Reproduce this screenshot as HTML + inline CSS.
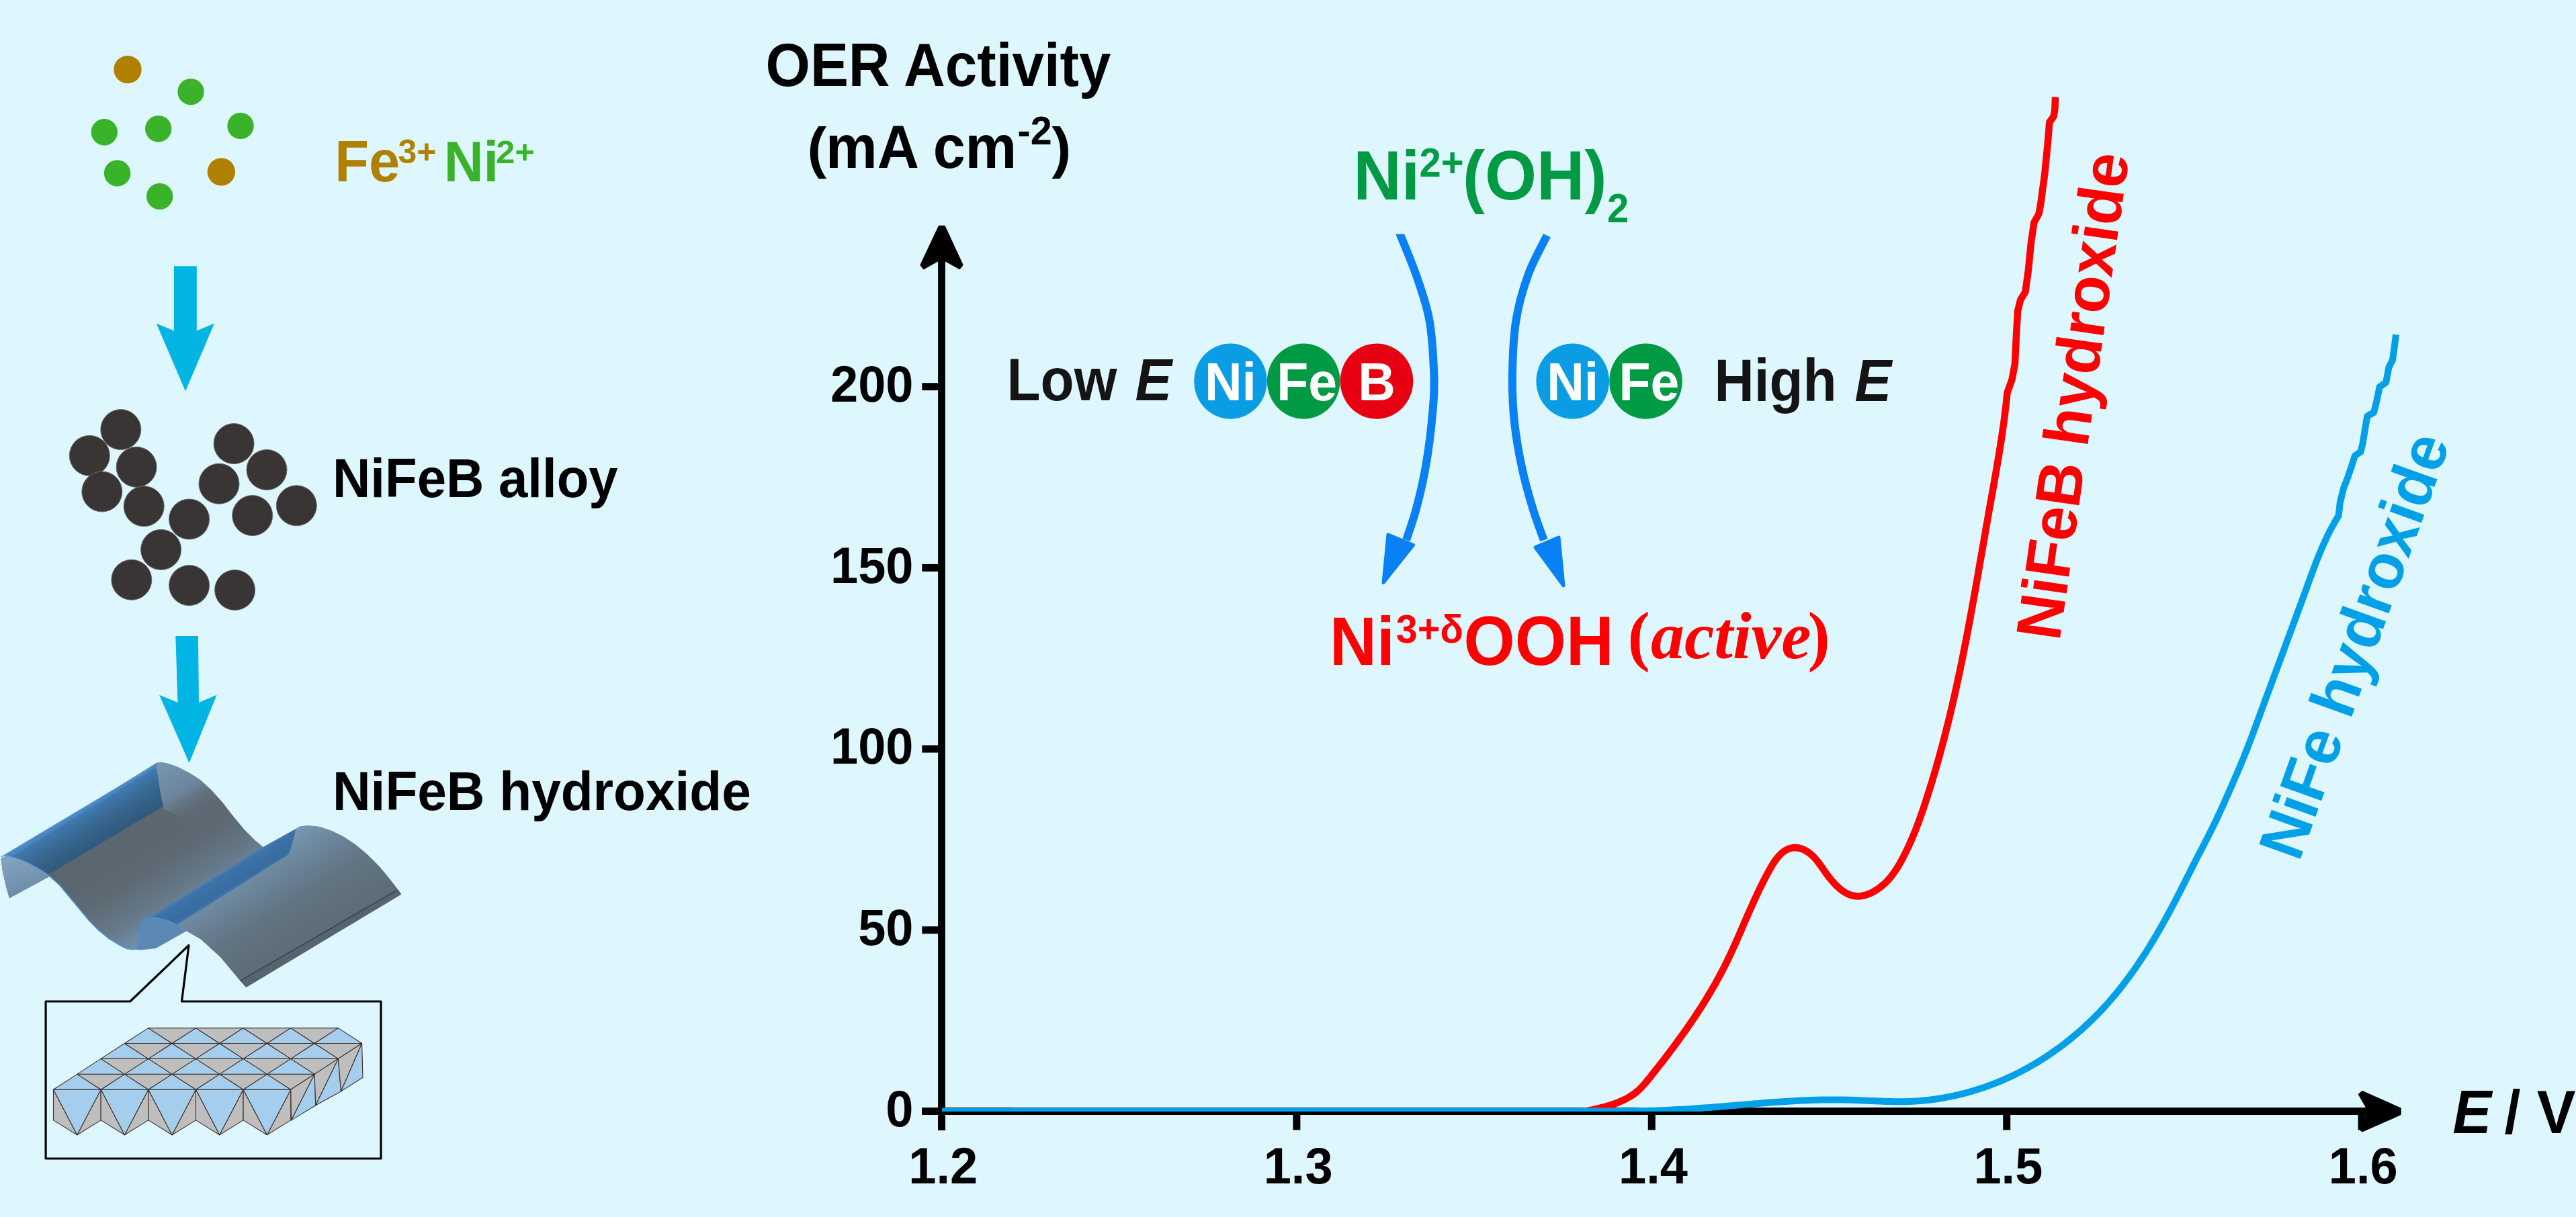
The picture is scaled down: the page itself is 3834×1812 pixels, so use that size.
<!DOCTYPE html><html><head><meta charset="utf-8"><style>html,body{margin:0;padding:0;background:#DEF7FF;overflow:hidden}svg{display:block}</style></head><body><svg width="3834" height="1812" viewBox="0 0 3834 1812"><rect width="100%" height="100%" fill="#DEF7FF"/><circle cx="190.0" cy="103.5" r="20.7" fill="#B08000"/>
<circle cx="329.4" cy="255.9" r="20.7" fill="#B08000"/>
<circle cx="284.0" cy="136.6" r="19.7" fill="#3AB22A"/>
<circle cx="155.3" cy="196.7" r="19.7" fill="#3AB22A"/>
<circle cx="235.7" cy="191.8" r="19.7" fill="#3AB22A"/>
<circle cx="358.0" cy="187.4" r="19.7" fill="#3AB22A"/>
<circle cx="174.6" cy="257.9" r="19.7" fill="#3AB22A"/>
<circle cx="237.7" cy="292.4" r="19.7" fill="#3AB22A"/>
<text x="0" y="0" transform="translate(498.2,269.6) scale(1,1.045)" font-family="&quot;Liberation Sans&quot;, sans-serif" font-weight="bold" font-style="normal" font-size="83.1" fill="#B08000" text-anchor="start" >Fe</text>
<text x="0" y="0" transform="translate(592.4,242.6) scale(1,1.000)" font-family="&quot;Liberation Sans&quot;, sans-serif" font-weight="bold" font-style="normal" font-size="50.0" fill="#B08000" text-anchor="start" >3+</text>
<text x="0" y="0" transform="translate(660.7,269.6) scale(1,1.035)" font-family="&quot;Liberation Sans&quot;, sans-serif" font-weight="bold" font-style="normal" font-size="81.6" fill="#3AB22A" text-anchor="start" >Ni</text>
<text x="0" y="0" transform="translate(738.2,242.8) scale(1,0.960)" font-family="&quot;Liberation Sans&quot;, sans-serif" font-weight="bold" font-style="normal" font-size="50.5" fill="#3AB22A" text-anchor="start" >2+</text>
<path d="M258.9,396.3 L292.8,396.3 L292.8,492.4 L319.0,481.6 L276.0,582.4 L232.7,481.6 L258.9,492.4 Z" fill="#00B4E4"/>
<path d="M261.3,947 L294.9,947 L296,1046 L322.5,1034.8 L281.6,1136 L237.2,1034.8 L264.5,1046 Z" fill="#00B4E4"/>
<circle cx="133.3" cy="678.4" r="30" fill="#383534" stroke="#6b6a6a" stroke-width="1"/>
<circle cx="179.8" cy="639.6" r="30" fill="#383534" stroke="#6b6a6a" stroke-width="1"/>
<circle cx="151.8" cy="732.0" r="30" fill="#383534" stroke="#6b6a6a" stroke-width="1"/>
<circle cx="203.1" cy="695.4" r="30" fill="#383534" stroke="#6b6a6a" stroke-width="1"/>
<circle cx="214.2" cy="753.8" r="30" fill="#383534" stroke="#6b6a6a" stroke-width="1"/>
<circle cx="348.1" cy="660.6" r="30" fill="#383534" stroke="#6b6a6a" stroke-width="1"/>
<circle cx="397.0" cy="699.5" r="30" fill="#383534" stroke="#6b6a6a" stroke-width="1"/>
<circle cx="326.0" cy="720.3" r="30" fill="#383534" stroke="#6b6a6a" stroke-width="1"/>
<circle cx="441.3" cy="752.8" r="30" fill="#383534" stroke="#6b6a6a" stroke-width="1"/>
<circle cx="375.7" cy="767.6" r="30" fill="#383534" stroke="#6b6a6a" stroke-width="1"/>
<circle cx="281.6" cy="773.0" r="30" fill="#383534" stroke="#6b6a6a" stroke-width="1"/>
<circle cx="239.6" cy="818.4" r="30" fill="#383534" stroke="#6b6a6a" stroke-width="1"/>
<circle cx="195.8" cy="863.3" r="30" fill="#383534" stroke="#6b6a6a" stroke-width="1"/>
<circle cx="281.6" cy="871.6" r="30" fill="#383534" stroke="#6b6a6a" stroke-width="1"/>
<circle cx="349.6" cy="878.5" r="30" fill="#383534" stroke="#6b6a6a" stroke-width="1"/>
<text x="0" y="0" transform="translate(495.0,740.0) scale(1,1.040)" font-family="&quot;Liberation Sans&quot;, sans-serif" font-weight="bold" font-style="normal" font-size="78.0" fill="#000" text-anchor="start" >NiFeB alloy</text>
<text x="0" y="0" transform="translate(495.0,1205.5) scale(1,1.040)" font-family="&quot;Liberation Sans&quot;, sans-serif" font-weight="bold" font-style="normal" font-size="78.4" fill="#000" text-anchor="start" >NiFeB hydroxide</text>
<defs><linearGradient id="gG1" gradientUnits="userSpaceOnUse" x1="35.8" y1="1309.0" x2="128.4" y2="1458.8"><stop offset="0.000" stop-color="#5a656d" stop-opacity="1"/><stop offset="0.500" stop-color="#5d6a73" stop-opacity="1"/><stop offset="0.780" stop-color="#667a8b" stop-opacity="1"/><stop offset="1.000" stop-color="#7392ad" stop-opacity="1"/></linearGradient><linearGradient id="gB1" gradientUnits="userSpaceOnUse" x1="14.8" y1="1275.0" x2="43.2" y2="1321.0"><stop offset="0.000" stop-color="#4a88c3" stop-opacity="1"/><stop offset="0.050" stop-color="#4079ae" stop-opacity="1"/><stop offset="0.500" stop-color="#37668f" stop-opacity="1"/><stop offset="1.000" stop-color="#30597c" stop-opacity="1"/></linearGradient><linearGradient id="gCap" gradientUnits="userSpaceOnUse" x1="12.2" y1="1270.7" x2="67.4" y2="1360.1"><stop offset="0.000" stop-color="#7a99b3" stop-opacity="1"/><stop offset="0.550" stop-color="#6d889f" stop-opacity="0.9"/><stop offset="1.000" stop-color="#5d6a73" stop-opacity="0"/></linearGradient><linearGradient id="gR2" gradientUnits="userSpaceOnUse" x1="111.6" y1="1431.6" x2="202.1" y2="1578.0"><stop offset="0.000" stop-color="#7a99b4" stop-opacity="1"/><stop offset="0.250" stop-color="#6c879d" stop-opacity="1"/><stop offset="0.550" stop-color="#627482" stop-opacity="1"/><stop offset="1.000" stop-color="#5c6a74" stop-opacity="1"/></linearGradient><linearGradient id="gB2" gradientUnits="userSpaceOnUse" x1="111.6" y1="1431.6" x2="129.5" y2="1460.5"><stop offset="0.000" stop-color="#4c86c0" stop-opacity="1"/><stop offset="0.200" stop-color="#3b72a9" stop-opacity="1"/><stop offset="0.800" stop-color="#356a9f" stop-opacity="1"/><stop offset="1.000" stop-color="#3f78b0" stop-opacity="1"/></linearGradient><linearGradient id="gLC" x1="0" y1="0" x2="0.3" y2="1"><stop offset="0" stop-color="#86a6c2"/><stop offset="1" stop-color="#6a8aa8"/></linearGradient></defs>
<path d="M1.5,1279.6 L232.1,1136.6 L238.7,1134.8 L248.6,1136.4 L265.0,1142.2 L281.4,1150.4 L297.9,1161.1 L314.3,1175.9 L330.7,1193.9 L347.1,1215.3 L363.6,1235.0 L380.0,1251.4 L389.9,1259.6 L392.0,1261.5 L440.4,1233.9 L446.3,1230.4 L458.1,1228.9 L475.9,1230.9 L493.6,1236.9 L511.4,1245.7 L529.1,1257.6 L546.9,1272.4 L564.6,1290.1 L579.4,1307.9 L594.2,1327.1 L597.2,1331.5 L366.4,1470.0 L357.5,1460.2 L327.9,1424.7 L298.3,1398.1 L277.6,1386.3 L265.8,1378.9 L251.5,1371.3 L233.7,1366.9 L221.9,1366.1 L214.5,1368.3 L210.0,1375.7 L207.1,1397.9 L204.1,1409.8 L199.7,1413.5 L189.3,1412.7 L177.5,1406.8 L162.7,1397.9 L148.0,1386.1 L133.1,1371.3 L118.3,1353.6 L103.6,1335.8 L88.8,1318.0 L74.0,1304.7 L14.0,1337.3 L9.0,1320.0 L4.0,1298.0 Z" fill="url(#gG1)" />
<path d="M232.3,1138.4 L238.7,1134.8 L248.6,1136.4 L265.0,1142.2 L281.4,1150.4 L297.9,1161.1 L314.3,1175.9 L330.7,1193.9 L347.1,1215.3 L363.6,1235.0 L380.0,1251.4 L300.0,1230.0 L243.0,1205.0 L242.7,1200.5 L238.1,1177.5 L234.6,1154.5 Z" fill="url(#gCap)" />
<path d="M1.5,1279.6 L10.4,1273.7 L14.8,1275.1 L29.6,1279.6 L44.4,1286.2 L59.2,1294.4 L74.0,1304.7 L14.0,1337.3 L9.0,1320.0 L4.0,1298.0 Z" fill="url(#gLC)" />
<path d="M2.0,1276.0 L232.3,1138.4 L234.6,1154.5 L238.1,1177.5 L242.7,1200.5 L74.0,1301.0 L59.2,1294.4 L44.4,1286.2 L29.6,1279.6 L14.8,1275.1 L6.0,1274.0 Z" fill="url(#gB1)" />
<path d="M262.8,1377.4 L430.0,1272.0 L440.4,1233.9 L446.3,1230.4 L458.1,1228.9 L475.9,1230.9 L493.6,1236.9 L511.4,1245.7 L529.1,1257.6 L546.9,1272.4 L564.6,1290.1 L579.4,1307.9 L594.2,1327.1 L597.2,1331.5 L366.4,1470.0 L357.5,1460.2 L327.9,1424.7 L298.3,1398.1 L277.6,1386.3 Z" fill="url(#gR2)" />
<path d="M221.4,1366.0 L390.0,1262.0 L440.4,1233.9 L436.0,1252.0 L430.0,1272.0 L262.8,1377.4 L251.5,1371.3 L233.7,1366.9 Z" fill="url(#gB2)" opacity="0.95"/>
<path d="M199.7,1413.5 L204.1,1409.8 L207.1,1397.9 L210.0,1375.7 L214.5,1368.3 L221.9,1366.1 L233.7,1366.9 L251.5,1371.3 L265.8,1378.9 L277.6,1386.3 L232.0,1412.0 L210.0,1414.5 Z" fill="#5c88b6" />
<path d="M74,1304.7 L88.8,1318 L103.6,1335.8 L118.3,1353.6 L133.1,1371.3 L148,1386.1 L162.7,1397.9 L177.5,1406.8 L189.3,1412.7 L199.7,1413.5 L204.1,1409.8 L207.1,1397.9 L210,1375.7 L214.5,1368.3 L221.9,1366.1 L233.7,1366.9 L251.5,1371.3 L265.8,1378.9" fill="none" stroke="#4d8fd2" stroke-width="1.6" stroke-linejoin="round"/>
<path d="M1.5,1279.6 L10.4,1273.7 L14.8,1275.1 L29.6,1279.6 L44.4,1286.2 L59.2,1294.4 L74,1304.7" fill="none" stroke="#5a97d6" stroke-width="1.4"/>
<path d="M2,1276 L232.3,1138.4" fill="none" stroke="#5795d4" stroke-width="1.6"/>
<path d="M357.5,1460.2 L591,1324.5 L597.2,1331.5 L366.4,1470 Z" fill="#56646e"/>
<path d="M357.5,1460.2 L590,1326" stroke="#2f3c46" stroke-width="1.3" fill="none"/>
<path d="M193.7,1491 L68.1,1491 L68.1,1725 L567,1725 L567,1491 L270.5,1491 L281,1407.5 Z" fill="none" stroke="#000" stroke-width="3.2" stroke-linejoin="round"/>
<path d="M79.5,1622.3 L79.5,1667.9 L114.8,1689.8 Z" fill="#BEBEBE" stroke="#3b2d2d" stroke-width="1.1" stroke-linejoin="round"/>
<path d="M150.2,1622.3 L150.2,1667.9 L114.8,1689.8 Z" fill="#BEBEBE" stroke="#3b2d2d" stroke-width="1.1" stroke-linejoin="round"/>
<path d="M79.5,1622.3 L150.2,1622.3 L114.8,1689.8 Z" fill="#A5CEEC" stroke="#3b2d2d" stroke-width="1.1" stroke-linejoin="round"/>
<path d="M150.2,1622.3 L150.2,1667.9 L185.5,1689.8 Z" fill="#BEBEBE" stroke="#3b2d2d" stroke-width="1.1" stroke-linejoin="round"/>
<path d="M220.8,1622.3 L220.8,1667.9 L185.5,1689.8 Z" fill="#BEBEBE" stroke="#3b2d2d" stroke-width="1.1" stroke-linejoin="round"/>
<path d="M150.2,1622.3 L220.8,1622.3 L185.5,1689.8 Z" fill="#A5CEEC" stroke="#3b2d2d" stroke-width="1.1" stroke-linejoin="round"/>
<path d="M220.8,1622.3 L220.8,1667.9 L256.1,1689.8 Z" fill="#BEBEBE" stroke="#3b2d2d" stroke-width="1.1" stroke-linejoin="round"/>
<path d="M291.5,1622.3 L291.5,1667.9 L256.1,1689.8 Z" fill="#BEBEBE" stroke="#3b2d2d" stroke-width="1.1" stroke-linejoin="round"/>
<path d="M220.8,1622.3 L291.5,1622.3 L256.1,1689.8 Z" fill="#A5CEEC" stroke="#3b2d2d" stroke-width="1.1" stroke-linejoin="round"/>
<path d="M291.5,1622.3 L291.5,1667.9 L326.8,1689.8 Z" fill="#BEBEBE" stroke="#3b2d2d" stroke-width="1.1" stroke-linejoin="round"/>
<path d="M362.1,1622.3 L362.1,1667.9 L326.8,1689.8 Z" fill="#BEBEBE" stroke="#3b2d2d" stroke-width="1.1" stroke-linejoin="round"/>
<path d="M291.5,1622.3 L362.1,1622.3 L326.8,1689.8 Z" fill="#A5CEEC" stroke="#3b2d2d" stroke-width="1.1" stroke-linejoin="round"/>
<path d="M362.1,1622.3 L362.1,1667.9 L397.4,1689.8 Z" fill="#BEBEBE" stroke="#3b2d2d" stroke-width="1.1" stroke-linejoin="round"/>
<path d="M432.8,1622.3 L432.8,1667.9 L397.4,1689.8 Z" fill="#BEBEBE" stroke="#3b2d2d" stroke-width="1.1" stroke-linejoin="round"/>
<path d="M362.1,1622.3 L432.8,1622.3 L397.4,1689.8 Z" fill="#A5CEEC" stroke="#3b2d2d" stroke-width="1.1" stroke-linejoin="round"/>
<path d="M79.5,1622.3 L150.2,1622.3 L114.8,1599.4 Z" fill="#A5CEEC" stroke="#3b2d2d" stroke-width="1.1" stroke-linejoin="round"/>
<path d="M150.2,1622.3 L220.8,1622.3 L185.4,1599.4 Z" fill="#A5CEEC" stroke="#3b2d2d" stroke-width="1.1" stroke-linejoin="round"/>
<path d="M220.8,1622.3 L291.5,1622.3 L256.1,1599.4 Z" fill="#A5CEEC" stroke="#3b2d2d" stroke-width="1.1" stroke-linejoin="round"/>
<path d="M291.5,1622.3 L362.1,1622.3 L326.8,1599.4 Z" fill="#A5CEEC" stroke="#3b2d2d" stroke-width="1.1" stroke-linejoin="round"/>
<path d="M362.1,1622.3 L432.8,1622.3 L397.4,1599.4 Z" fill="#A5CEEC" stroke="#3b2d2d" stroke-width="1.1" stroke-linejoin="round"/>
<path d="M114.8,1599.4 L185.4,1599.4 L150.2,1622.3 Z" fill="#BEBEBE" stroke="#3b2d2d" stroke-width="1.1" stroke-linejoin="round"/>
<path d="M185.4,1599.4 L256.1,1599.4 L220.8,1622.3 Z" fill="#BEBEBE" stroke="#3b2d2d" stroke-width="1.1" stroke-linejoin="round"/>
<path d="M256.1,1599.4 L326.8,1599.4 L291.5,1622.3 Z" fill="#BEBEBE" stroke="#3b2d2d" stroke-width="1.1" stroke-linejoin="round"/>
<path d="M326.8,1599.4 L397.4,1599.4 L362.1,1622.3 Z" fill="#BEBEBE" stroke="#3b2d2d" stroke-width="1.1" stroke-linejoin="round"/>
<path d="M397.4,1599.4 L468.1,1599.4 L432.8,1622.3 Z" fill="#BEBEBE" stroke="#3b2d2d" stroke-width="1.1" stroke-linejoin="round"/>
<path d="M114.8,1599.4 L185.4,1599.4 L150.1,1576.4 Z" fill="#A5CEEC" stroke="#3b2d2d" stroke-width="1.1" stroke-linejoin="round"/>
<path d="M185.4,1599.4 L256.1,1599.4 L220.8,1576.4 Z" fill="#A5CEEC" stroke="#3b2d2d" stroke-width="1.1" stroke-linejoin="round"/>
<path d="M256.1,1599.4 L326.8,1599.4 L291.4,1576.4 Z" fill="#A5CEEC" stroke="#3b2d2d" stroke-width="1.1" stroke-linejoin="round"/>
<path d="M326.8,1599.4 L397.4,1599.4 L362.1,1576.4 Z" fill="#A5CEEC" stroke="#3b2d2d" stroke-width="1.1" stroke-linejoin="round"/>
<path d="M397.4,1599.4 L468.1,1599.4 L432.7,1576.4 Z" fill="#A5CEEC" stroke="#3b2d2d" stroke-width="1.1" stroke-linejoin="round"/>
<path d="M150.1,1576.4 L220.8,1576.4 L185.4,1599.4 Z" fill="#BEBEBE" stroke="#3b2d2d" stroke-width="1.1" stroke-linejoin="round"/>
<path d="M220.8,1576.4 L291.4,1576.4 L256.1,1599.4 Z" fill="#BEBEBE" stroke="#3b2d2d" stroke-width="1.1" stroke-linejoin="round"/>
<path d="M291.4,1576.4 L362.1,1576.4 L326.8,1599.4 Z" fill="#BEBEBE" stroke="#3b2d2d" stroke-width="1.1" stroke-linejoin="round"/>
<path d="M362.1,1576.4 L432.7,1576.4 L397.4,1599.4 Z" fill="#BEBEBE" stroke="#3b2d2d" stroke-width="1.1" stroke-linejoin="round"/>
<path d="M432.7,1576.4 L503.4,1576.4 L468.1,1599.4 Z" fill="#BEBEBE" stroke="#3b2d2d" stroke-width="1.1" stroke-linejoin="round"/>
<path d="M150.1,1576.4 L220.8,1576.4 L185.4,1553.5 Z" fill="#A5CEEC" stroke="#3b2d2d" stroke-width="1.1" stroke-linejoin="round"/>
<path d="M220.8,1576.4 L291.4,1576.4 L256.0,1553.5 Z" fill="#A5CEEC" stroke="#3b2d2d" stroke-width="1.1" stroke-linejoin="round"/>
<path d="M291.4,1576.4 L362.1,1576.4 L326.7,1553.5 Z" fill="#A5CEEC" stroke="#3b2d2d" stroke-width="1.1" stroke-linejoin="round"/>
<path d="M362.1,1576.4 L432.7,1576.4 L397.4,1553.5 Z" fill="#A5CEEC" stroke="#3b2d2d" stroke-width="1.1" stroke-linejoin="round"/>
<path d="M432.7,1576.4 L503.4,1576.4 L468.0,1553.5 Z" fill="#A5CEEC" stroke="#3b2d2d" stroke-width="1.1" stroke-linejoin="round"/>
<path d="M185.4,1553.5 L256.0,1553.5 L220.8,1576.4 Z" fill="#BEBEBE" stroke="#3b2d2d" stroke-width="1.1" stroke-linejoin="round"/>
<path d="M256.0,1553.5 L326.7,1553.5 L291.4,1576.4 Z" fill="#BEBEBE" stroke="#3b2d2d" stroke-width="1.1" stroke-linejoin="round"/>
<path d="M326.7,1553.5 L397.4,1553.5 L362.1,1576.4 Z" fill="#BEBEBE" stroke="#3b2d2d" stroke-width="1.1" stroke-linejoin="round"/>
<path d="M397.4,1553.5 L468.0,1553.5 L432.7,1576.4 Z" fill="#BEBEBE" stroke="#3b2d2d" stroke-width="1.1" stroke-linejoin="round"/>
<path d="M468.0,1553.5 L538.6,1553.5 L503.4,1576.4 Z" fill="#BEBEBE" stroke="#3b2d2d" stroke-width="1.1" stroke-linejoin="round"/>
<path d="M185.4,1553.5 L256.0,1553.5 L220.7,1530.6 Z" fill="#A5CEEC" stroke="#3b2d2d" stroke-width="1.1" stroke-linejoin="round"/>
<path d="M256.0,1553.5 L326.7,1553.5 L291.4,1530.6 Z" fill="#A5CEEC" stroke="#3b2d2d" stroke-width="1.1" stroke-linejoin="round"/>
<path d="M326.7,1553.5 L397.4,1553.5 L362.0,1530.6 Z" fill="#A5CEEC" stroke="#3b2d2d" stroke-width="1.1" stroke-linejoin="round"/>
<path d="M397.4,1553.5 L468.0,1553.5 L432.6,1530.6 Z" fill="#A5CEEC" stroke="#3b2d2d" stroke-width="1.1" stroke-linejoin="round"/>
<path d="M468.0,1553.5 L538.6,1553.5 L503.3,1530.6 Z" fill="#A5CEEC" stroke="#3b2d2d" stroke-width="1.1" stroke-linejoin="round"/>
<path d="M220.7,1530.6 L291.4,1530.6 L256.0,1553.5 Z" fill="#BEBEBE" stroke="#3b2d2d" stroke-width="1.1" stroke-linejoin="round"/>
<path d="M291.4,1530.6 L362.0,1530.6 L326.7,1553.5 Z" fill="#BEBEBE" stroke="#3b2d2d" stroke-width="1.1" stroke-linejoin="round"/>
<path d="M362.0,1530.6 L432.6,1530.6 L397.4,1553.5 Z" fill="#BEBEBE" stroke="#3b2d2d" stroke-width="1.1" stroke-linejoin="round"/>
<path d="M432.6,1530.6 L503.3,1530.6 L468.0,1553.5 Z" fill="#BEBEBE" stroke="#3b2d2d" stroke-width="1.1" stroke-linejoin="round"/>
<path d="M432.8,1622.3 L468.1,1599.4 L433.5,1667.9 Z" fill="#BEBEBE" stroke="#3b2d2d" stroke-width="1.1" stroke-linejoin="round"/>
<path d="M433.5,1667.9 L468.1,1599.4 L469.8,1645.7 Z" fill="#A5CEEC" stroke="#3b2d2d" stroke-width="1.1" stroke-linejoin="round"/>
<path d="M468.1,1599.4 L503.4,1576.4 L469.8,1645.7 Z" fill="#BEBEBE" stroke="#3b2d2d" stroke-width="1.1" stroke-linejoin="round"/>
<path d="M469.8,1645.7 L503.4,1576.4 L507.5,1625.0 Z" fill="#A5CEEC" stroke="#3b2d2d" stroke-width="1.1" stroke-linejoin="round"/>
<path d="M503.4,1576.4 L538.6,1553.5 L507.5,1625.0 Z" fill="#BEBEBE" stroke="#3b2d2d" stroke-width="1.1" stroke-linejoin="round"/>
<path d="M507.5,1625.0 L538.6,1553.5 L540.0,1604.3 Z" fill="#A5CEEC" stroke="#3b2d2d" stroke-width="1.1" stroke-linejoin="round"/>
<line x1="1401.5" y1="1683.0" x2="1401.5" y2="360.0" stroke="#000" stroke-width="10.8"/>
<line x1="1372.3" y1="1654.5" x2="3545" y2="1654.5" stroke="#000" stroke-width="10.8"/>
<path d="M1397.9,337.3 L1405.6,337.3 L1432,394.5 L1428,399.5 L1406.5,387.5 L1396.5,387.5 L1375,399.5 L1371,394.5 Z" fill="#000" stroke="#000" stroke-width="3" stroke-linejoin="round"/>
<path d="M3572.3,1650.6 L3572.3,1659 L3516,1684 L3511.5,1680 L3523,1660 L3523,1649.5 L3511.5,1629.5 L3516,1625.5 Z" fill="#000" stroke="#000" stroke-width="3" stroke-linejoin="round"/>
<line x1="1372.3" y1="1654.5" x2="1401" y2="1654.5" stroke="#000" stroke-width="11"/>
<text x="0" y="0" transform="translate(1359.5,1676.8) scale(1,1.030)" font-family="&quot;Liberation Sans&quot;, sans-serif" font-weight="bold" font-style="normal" font-size="74.0" fill="#000" text-anchor="end" >0</text>
<line x1="1372.3" y1="1384.8" x2="1401" y2="1384.8" stroke="#000" stroke-width="11"/>
<text x="0" y="0" transform="translate(1359.5,1407.1) scale(1,1.030)" font-family="&quot;Liberation Sans&quot;, sans-serif" font-weight="bold" font-style="normal" font-size="74.0" fill="#000" text-anchor="end" >50</text>
<line x1="1372.3" y1="1115.1" x2="1401" y2="1115.1" stroke="#000" stroke-width="11"/>
<text x="0" y="0" transform="translate(1359.5,1137.4) scale(1,1.030)" font-family="&quot;Liberation Sans&quot;, sans-serif" font-weight="bold" font-style="normal" font-size="74.0" fill="#000" text-anchor="end" >100</text>
<line x1="1372.3" y1="845.4" x2="1401" y2="845.4" stroke="#000" stroke-width="11"/>
<text x="0" y="0" transform="translate(1359.5,867.7) scale(1,1.030)" font-family="&quot;Liberation Sans&quot;, sans-serif" font-weight="bold" font-style="normal" font-size="74.0" fill="#000" text-anchor="end" >150</text>
<line x1="1372.3" y1="575.7" x2="1401" y2="575.7" stroke="#000" stroke-width="11"/>
<text x="0" y="0" transform="translate(1359.5,598.0) scale(1,1.030)" font-family="&quot;Liberation Sans&quot;, sans-serif" font-weight="bold" font-style="normal" font-size="74.0" fill="#000" text-anchor="end" >200</text>
<line x1="1401.5" y1="1654.5" x2="1401.5" y2="1682.5" stroke="#000" stroke-width="11"/>
<text x="0" y="0" transform="translate(1403.7,1762.3) scale(1,1.030)" font-family="&quot;Liberation Sans&quot;, sans-serif" font-weight="bold" font-style="normal" font-size="74.0" fill="#000" text-anchor="middle" >1.2</text>
<line x1="1929.9" y1="1654.5" x2="1929.9" y2="1682.5" stroke="#000" stroke-width="11"/>
<text x="0" y="0" transform="translate(1932.1,1762.3) scale(1,1.030)" font-family="&quot;Liberation Sans&quot;, sans-serif" font-weight="bold" font-style="normal" font-size="74.0" fill="#000" text-anchor="middle" >1.3</text>
<line x1="2458.3" y1="1654.5" x2="2458.3" y2="1682.5" stroke="#000" stroke-width="11"/>
<text x="0" y="0" transform="translate(2460.5,1762.3) scale(1,1.030)" font-family="&quot;Liberation Sans&quot;, sans-serif" font-weight="bold" font-style="normal" font-size="74.0" fill="#000" text-anchor="middle" >1.4</text>
<line x1="2986.7" y1="1654.5" x2="2986.7" y2="1682.5" stroke="#000" stroke-width="11"/>
<text x="0" y="0" transform="translate(2988.9,1762.3) scale(1,1.030)" font-family="&quot;Liberation Sans&quot;, sans-serif" font-weight="bold" font-style="normal" font-size="74.0" fill="#000" text-anchor="middle" >1.5</text>
<line x1="3515.1" y1="1654.5" x2="3515.1" y2="1682.5" stroke="#000" stroke-width="11"/>
<text x="0" y="0" transform="translate(3517.3,1762.3) scale(1,1.030)" font-family="&quot;Liberation Sans&quot;, sans-serif" font-weight="bold" font-style="normal" font-size="74.0" fill="#000" text-anchor="middle" >1.6</text>
<text x="0" y="0" transform="translate(1139.5,127.8) scale(1,1.055)" font-family="&quot;Liberation Sans&quot;, sans-serif" font-weight="bold" font-style="normal" font-size="85.4" fill="#000" text-anchor="start" >OER Activity</text>
<text x="0" y="0" transform="translate(1201.5,249.3) scale(1,0.973)" font-family="&quot;Liberation Sans&quot;, sans-serif" font-weight="bold" font-style="normal" font-size="86.2" fill="#000" text-anchor="start" >(</text>
<text x="0" y="0" transform="translate(1229.0,249.9) scale(1,1.045)" font-family="&quot;Liberation Sans&quot;, sans-serif" font-weight="bold" font-style="normal" font-size="86.2" fill="#000" text-anchor="start" >mA cm</text>
<text x="0" y="0" transform="translate(1514.6,214.8) scale(1,1.040)" font-family="&quot;Liberation Sans&quot;, sans-serif" font-weight="bold" font-style="normal" font-size="57.5" fill="#000" text-anchor="start" >-2</text>
<text x="0" y="0" transform="translate(1565.5,249.3) scale(1,0.973)" font-family="&quot;Liberation Sans&quot;, sans-serif" font-weight="bold" font-style="normal" font-size="86.2" fill="#000" text-anchor="start" >)</text>
<text x="0" y="0" transform="translate(3650.5,1687.3) scale(1,1.040)" font-family="&quot;Liberation Sans&quot;, sans-serif" font-weight="bold" font-style="italic" font-size="86.5" fill="#000" text-anchor="start" >E</text>
<text x="0" y="0" transform="translate(3727.6,1687.0) scale(1,1.040)" font-family="&quot;Liberation Sans&quot;, sans-serif" font-weight="bold" font-style="normal" font-size="86.5" fill="#000" text-anchor="start" >/ V</text>
<defs><clipPath id="plot"><rect x="1402" y="0" width="2200" height="1655"/></clipPath></defs>
<g clip-path="url(#plot)">
<path d="M2200,1660 L2300.1,1659.6 L2303.8,1659.5 L2307.6,1659.4 L2311.4,1659.3 L2315.1,1659.2 L2318.9,1659.0 L2322.7,1658.7 L2326.4,1658.5 L2330.2,1658.2 L2334.0,1657.8 L2337.7,1657.4 L2341.5,1657.0 L2345.2,1656.5 L2349.0,1656.0 L2352.8,1655.5 L2356.5,1654.9 L2360.2,1654.2 L2364.0,1653.6 L2367.7,1652.8 L2371.5,1652.1 L2375.2,1651.2 L2378.9,1650.4 L2382.7,1649.4 L2386.4,1648.5 L2390.1,1647.5 L2393.8,1646.4 L2397.5,1645.2 L2401.1,1644.0 L2404.7,1642.8 L2408.3,1641.4 L2411.8,1639.9 L2415.3,1638.4 L2418.7,1636.8 L2422.0,1635.0 L2425.2,1633.2 L2428.4,1631.2 L2431.4,1629.1 L2434.4,1626.9 L2437.2,1624.6 L2440.0,1622.1 L2442.6,1619.5 L2445.1,1616.8 L2447.6,1614.0 L2450.0,1611.1 L2452.4,1608.2 L2454.8,1605.3 L2457.1,1602.4 L2459.5,1599.4 L2461.8,1596.5 L2464.2,1593.5 L2466.5,1590.5 L2468.9,1587.5 L2471.2,1584.6 L2473.6,1581.6 L2475.9,1578.6 L2478.2,1575.5 L2480.5,1572.5 L2482.8,1569.5 L2485.1,1566.4 L2487.4,1563.4 L2489.7,1560.3 L2492.0,1557.3 L2494.3,1554.2 L2496.5,1551.1 L2498.8,1548.0 L2501.0,1544.9 L2503.2,1541.8 L2505.5,1538.7 L2507.7,1535.6 L2509.9,1532.5 L2512.0,1529.3 L2514.2,1526.2 L2516.4,1523.0 L2518.5,1519.9 L2520.7,1516.7 L2522.8,1513.6 L2524.9,1510.4 L2527.0,1507.2 L2529.0,1504.0 L2531.1,1500.8 L2533.2,1497.6 L2535.2,1494.4 L2537.2,1491.1 L2539.2,1487.9 L2541.2,1484.7 L2543.1,1481.4 L2545.1,1478.2 L2547.0,1474.9 L2548.9,1471.6 L2550.8,1468.3 L2552.7,1465.1 L2554.5,1461.8 L2556.3,1458.5 L2558.1,1455.2 L2559.9,1451.9 L2561.7,1448.6 L2563.4,1445.2 L2565.2,1441.9 L2566.9,1438.6 L2568.5,1435.2 L2570.2,1431.9 L2571.8,1428.5 L2573.4,1425.2 L2575.0,1421.8 L2576.6,1418.4 L2578.2,1415.0 L2579.7,1411.6 L2581.2,1408.3 L2582.8,1404.9 L2584.3,1401.4 L2585.8,1398.0 L2587.3,1394.6 L2588.8,1391.2 L2590.3,1387.8 L2591.8,1384.3 L2593.2,1380.9 L2594.7,1377.5 L2596.2,1374.0 L2597.7,1370.5 L2599.2,1367.1 L2600.7,1363.6 L2602.2,1360.1 L2603.8,1356.7 L2605.3,1353.2 L2606.9,1349.7 L2608.4,1346.2 L2610.0,1342.7 L2611.6,1339.2 L2613.2,1335.7 L2614.9,1332.2 L2616.5,1328.7 L2618.2,1325.2 L2619.9,1321.6 L2621.7,1318.1 L2623.4,1314.6 L2625.2,1311.0 L2627.0,1307.5 L2628.9,1303.9 L2630.8,1300.4 L2632.7,1296.8 L2634.7,1293.3 L2636.7,1289.8 L2638.8,1286.4 L2640.9,1283.1 L2643.2,1280.0 L2645.5,1277.0 L2647.9,1274.1 L2650.4,1271.6 L2653.1,1269.2 L2655.8,1267.2 L2658.7,1265.4 L2661.7,1264.0 L2664.8,1263.0 L2668.1,1262.3 L2671.3,1262.0 L2674.6,1262.2 L2677.8,1262.7 L2681.1,1263.6 L2684.3,1264.9 L2687.4,1266.5 L2690.5,1268.4 L2693.5,1270.5 L2696.4,1273.0 L2699.2,1275.6 L2701.9,1278.5 L2704.4,1281.5 L2706.8,1284.7 L2709.2,1287.9 L2711.6,1291.2 L2713.9,1294.6 L2716.3,1298.0 L2718.7,1301.3 L2721.1,1304.6 L2723.7,1307.9 L2726.3,1311.0 L2728.9,1314.0 L2731.6,1316.9 L2734.4,1319.7 L2737.2,1322.2 L2740.1,1324.6 L2743.0,1326.8 L2746.1,1328.7 L2749.1,1330.4 L2752.3,1331.9 L2755.5,1333.0 L2758.8,1333.8 L2762.2,1334.3 L2765.6,1334.4 L2769.1,1334.2 L2772.6,1333.6 L2776.2,1332.8 L2779.7,1331.6 L2783.3,1330.2 L2786.8,1328.5 L2790.2,1326.6 L2793.5,1324.6 L2796.8,1322.3 L2799.9,1319.9 L2802.9,1317.4 L2805.8,1314.8 L2808.5,1312.1 L2811.1,1309.3 L2813.6,1306.3 L2816.0,1303.3 L2818.3,1300.3 L2820.5,1297.1 L2822.6,1293.9 L2824.6,1290.7 L2826.6,1287.4 L2828.5,1284.1 L2830.3,1280.7 L2832.1,1277.3 L2833.9,1273.9 L2835.6,1270.5 L2837.3,1267.1 L2838.9,1263.7 L2840.6,1260.3 L2842.1,1256.8 L2843.7,1253.3 L2845.2,1249.9 L2846.7,1246.4 L2848.1,1242.9 L2849.6,1239.4 L2851.0,1235.9 L2852.3,1232.4 L2853.7,1228.8 L2855.0,1225.3 L2856.3,1221.8 L2857.6,1218.2 L2858.9,1214.7 L2860.1,1211.1 L2861.3,1207.5 L2862.6,1204.0 L2863.8,1200.4 L2865.0,1196.8 L2866.1,1193.2 L2867.3,1189.6 L2868.5,1186.0 L2869.6,1182.4 L2870.8,1178.8 L2871.9,1175.2 L2873.0,1171.6 L2874.1,1168.0 L2875.3,1164.4 L2876.3,1160.8 L2877.4,1157.1 L2878.5,1153.5 L2879.6,1149.9 L2880.6,1146.3 L2881.7,1142.6 L2882.7,1139.0 L2883.8,1135.3 L2884.8,1131.7 L2885.8,1128.1 L2886.8,1124.4 L2887.8,1120.8 L2888.8,1117.1 L2889.8,1113.4 L2890.8,1109.8 L2891.8,1106.1 L2892.7,1102.5 L2893.7,1098.8 L2894.6,1095.1 L2895.6,1091.4 L2896.5,1087.8 L2897.4,1084.1 L2898.4,1080.4 L2899.3,1076.7 L2900.2,1073.1 L2901.1,1069.4 L2902.0,1065.7 L2902.8,1062.0 L2903.7,1058.3 L2904.6,1054.6 L2905.5,1050.9 L2906.3,1047.2 L2907.2,1043.5 L2908.0,1039.8 L2908.8,1036.1 L2909.7,1032.4 L2910.5,1028.7 L2911.3,1025.0 L2912.1,1021.3 L2912.9,1017.6 L2913.7,1013.9 L2914.5,1010.2 L2915.3,1006.5 L2916.1,1002.8 L2916.9,999.1 L2917.7,995.4 L2918.4,991.7 L2919.2,988.0 L2920.0,984.3 L2920.7,980.6 L2921.5,976.9 L2922.2,973.2 L2922.9,969.4 L2923.7,965.7 L2924.4,962.0 L2925.1,958.3 L2925.8,954.6 L2926.6,950.9 L2927.3,947.2 L2928.0,943.5 L2928.7,939.7 L2929.4,936.0 L2930.1,932.3 L2930.8,928.6 L2931.5,924.9 L2932.2,921.2 L2932.9,917.4 L2933.5,913.7 L2934.2,910.0 L2934.9,906.3 L2935.6,902.6 L2936.2,898.9 L2936.9,895.1 L2937.6,891.4 L2938.2,887.7 L2938.9,884.0 L2939.6,880.2 L2940.2,876.5 L2940.9,872.8 L2941.5,869.1 L2942.2,865.4 L2942.8,861.6 L2943.5,857.9 L2944.2,854.2 L2944.8,850.5 L2945.4,846.7 L2946.1,843.0 L2946.7,839.3 L2947.4,835.6 L2948.0,831.8 L2948.7,828.1 L2949.3,824.4 L2950.0,820.7 L2950.6,816.9 L2951.3,813.2 L2951.9,809.5 L2952.6,805.7 L2953.2,802.0 L2953.9,798.3 L2954.5,794.6 L2955.1,790.8 L2955.8,787.1 L2956.4,783.4 L2957.1,779.6 L2957.8,775.9 L2958.4,772.2 L2959.1,768.4 L2959.7,764.7 L2960.4,761.0 L2961.0,757.2 L2961.7,753.5 L2962.4,749.8 L2963.0,746.0 L2963.7,742.3 L2964.4,738.6 L2965.0,734.8 L2965.7,731.1 L2966.4,727.4 L2967.0,723.6 L2967.7,719.9 L2968.4,716.2 L2969.0,712.4 L2969.7,708.7 L2970.3,705.0 L2971.0,701.2 L2971.6,697.5 L2972.3,693.8 L2972.9,690.0 L2973.5,686.3 L2974.2,682.5 L2974.8,678.8 L2975.4,675.1 L2976.0,671.3 L2976.6,667.6 L2977.2,663.8 L2977.8,660.1 L2978.4,656.4 L2978.9,652.6 L2979.5,648.9 L2980.1,645.1 L2980.6,641.4 L2981.1,637.6 L2981.7,633.9 L2982.2,630.1 L2982.7,626.4 L2983.2,622.6 L2983.7,618.9 L2984.1,615.1 L2984.6,611.4 L2985.0,607.6 L2985.5,603.9 L2985.9,600.1 L2986.3,596.4 L2986.7,592.6 L2987.0,588.9 L2987.4,585.1 L2994.6,564.9 L2998.9,541.9 L3001.0,498.8 L3002.7,470.0 L3002.9,463.5 L3007.3,446.3 L3014.4,434.8 L3018.8,403.1 L3023.1,360.0 L3027.4,331.3 L3034.6,318.3 L3037.4,302.5 L3043.2,259.4 L3047.5,216.3 L3050.4,181.8 L3056.7,173.1 L3058.4,161.6 L3059.0,144.4" fill="none" stroke="#FF0000" stroke-width="10.5" stroke-linejoin="round"/>
<path d="M1402,1654.5 L2380.0,1654.4 L2384.0,1654.5 L2388.1,1654.5 L2392.1,1654.6 L2396.1,1654.6 L2400.2,1654.6 L2404.2,1654.6 L2408.2,1654.6 L2412.3,1654.6 L2416.3,1654.6 L2420.3,1654.5 L2424.4,1654.5 L2428.4,1654.4 L2432.4,1654.4 L2436.4,1654.3 L2440.5,1654.2 L2444.5,1654.1 L2448.5,1654.0 L2452.6,1653.9 L2456.6,1653.8 L2460.6,1653.7 L2464.6,1653.6 L2468.6,1653.4 L2472.7,1653.3 L2476.7,1653.1 L2480.7,1652.9 L2484.7,1652.7 L2488.8,1652.5 L2492.8,1652.3 L2496.8,1652.1 L2500.8,1651.9 L2504.8,1651.7 L2508.9,1651.4 L2512.9,1651.2 L2516.9,1650.9 L2520.9,1650.6 L2525.0,1650.4 L2529.0,1650.1 L2533.0,1649.8 L2537.0,1649.5 L2541.0,1649.2 L2545.1,1648.9 L2549.1,1648.6 L2553.1,1648.2 L2557.1,1647.9 L2561.2,1647.6 L2565.2,1647.2 L2569.2,1646.9 L2573.2,1646.6 L2577.2,1646.2 L2581.3,1645.9 L2585.3,1645.6 L2589.3,1645.2 L2593.3,1644.9 L2597.4,1644.5 L2601.4,1644.2 L2605.4,1643.9 L2609.4,1643.5 L2613.4,1643.2 L2617.5,1642.9 L2621.5,1642.5 L2625.5,1642.2 L2629.5,1641.9 L2633.6,1641.6 L2637.6,1641.3 L2641.6,1641.0 L2645.6,1640.7 L2649.7,1640.5 L2653.7,1640.2 L2657.7,1639.9 L2661.7,1639.7 L2665.7,1639.4 L2669.8,1639.2 L2673.8,1639.0 L2677.8,1638.8 L2681.8,1638.6 L2685.9,1638.4 L2689.9,1638.2 L2693.9,1638.1 L2697.9,1637.9 L2701.9,1637.8 L2706.0,1637.7 L2710.0,1637.6 L2714.0,1637.5 L2718.0,1637.5 L2722.1,1637.4 L2726.1,1637.4 L2730.1,1637.4 L2734.1,1637.4 L2738.1,1637.4 L2742.2,1637.5 L2746.2,1637.6 L2750.2,1637.7 L2754.2,1637.8 L2758.2,1637.9 L2762.3,1638.1 L2766.3,1638.2 L2770.3,1638.4 L2774.3,1638.6 L2778.3,1638.8 L2782.4,1638.9 L2786.4,1639.1 L2790.4,1639.3 L2794.4,1639.5 L2798.5,1639.6 L2802.5,1639.8 L2806.5,1639.9 L2810.5,1640.0 L2814.5,1640.1 L2818.6,1640.2 L2822.6,1640.2 L2826.6,1640.2 L2830.6,1640.2 L2834.7,1640.2 L2838.7,1640.1 L2842.7,1639.9 L2846.7,1639.8 L2850.7,1639.5 L2854.8,1639.3 L2858.8,1639.0 L2862.8,1638.6 L2866.8,1638.2 L2870.9,1637.8 L2874.9,1637.3 L2878.9,1636.7 L2882.9,1636.2 L2886.9,1635.5 L2890.9,1634.9 L2894.9,1634.2 L2898.8,1633.4 L2902.8,1632.7 L2906.8,1631.8 L2910.7,1631.0 L2914.7,1630.1 L2918.6,1629.1 L2922.5,1628.1 L2926.5,1627.1 L2930.4,1626.0 L2934.3,1624.9 L2938.1,1623.8 L2942.0,1622.6 L2945.9,1621.3 L2949.7,1620.1 L2953.5,1618.8 L2957.3,1617.4 L2961.1,1616.0 L2964.9,1614.6 L2968.7,1613.2 L2972.4,1611.7 L2976.2,1610.1 L2979.9,1608.6 L2983.6,1607.0 L2987.2,1605.3 L2990.9,1603.7 L2994.6,1601.9 L2998.2,1600.2 L3001.8,1598.4 L3005.4,1596.6 L3009.0,1594.8 L3012.5,1592.9 L3016.1,1591.0 L3019.6,1589.0 L3023.1,1587.0 L3026.6,1585.0 L3030.0,1583.0 L3033.5,1580.9 L3036.9,1578.8 L3040.3,1576.6 L3043.7,1574.4 L3047.1,1572.2 L3050.4,1570.0 L3053.7,1567.7 L3057.0,1565.4 L3060.3,1563.1 L3063.6,1560.7 L3066.8,1558.4 L3070.1,1555.9 L3073.3,1553.5 L3076.4,1551.0 L3079.6,1548.5 L3082.7,1546.0 L3085.8,1543.4 L3088.9,1540.8 L3092.0,1538.2 L3095.0,1535.6 L3098.1,1532.9 L3101.1,1530.2 L3104.0,1527.5 L3107.0,1524.8 L3109.9,1522.0 L3112.8,1519.2 L3115.7,1516.4 L3118.5,1513.5 L3121.4,1510.7 L3124.2,1507.8 L3127.0,1504.9 L3129.7,1501.9 L3132.4,1499.0 L3135.1,1496.0 L3137.8,1493.0 L3140.5,1490.0 L3143.1,1486.9 L3145.7,1483.8 L3148.3,1480.7 L3150.9,1477.6 L3153.4,1474.5 L3155.9,1471.4 L3158.4,1468.2 L3160.9,1465.0 L3163.3,1461.8 L3165.7,1458.6 L3168.1,1455.3 L3170.5,1452.1 L3172.9,1448.8 L3175.2,1445.5 L3177.6,1442.2 L3179.9,1438.9 L3182.1,1435.5 L3184.4,1432.2 L3186.6,1428.8 L3188.9,1425.5 L3191.1,1422.1 L3193.3,1418.7 L3195.4,1415.2 L3197.6,1411.8 L3199.7,1408.4 L3201.8,1404.9 L3203.9,1401.5 L3206.0,1398.0 L3208.1,1394.5 L3210.1,1391.0 L3212.2,1387.5 L3214.2,1384.0 L3216.2,1380.5 L3218.2,1377.0 L3220.2,1373.5 L3222.2,1369.9 L3224.1,1366.4 L3226.1,1362.8 L3228.0,1359.3 L3229.9,1355.7 L3231.8,1352.2 L3233.7,1348.6 L3235.6,1345.0 L3237.4,1341.5 L3239.3,1337.9 L3241.1,1334.3 L3242.9,1330.7 L3244.8,1327.1 L3246.6,1323.6 L3248.4,1320.0 L3250.2,1316.4 L3252.0,1312.8 L3253.8,1309.2 L3255.6,1305.6 L3257.4,1302.1 L3259.2,1298.5 L3261.0,1294.9 L3262.8,1291.3 L3264.6,1287.7 L3266.4,1284.2 L3268.2,1280.6 L3270.0,1277.0 L3271.9,1273.5 L3273.7,1269.9 L3275.6,1266.3 L3277.5,1262.8 L3279.3,1259.2 L3281.2,1255.7 L3283.0,1252.1 L3284.9,1248.5 L3286.7,1244.9 L3288.5,1241.3 L3290.3,1237.7 L3292.1,1234.1 L3293.9,1230.5 L3295.6,1226.9 L3297.4,1223.3 L3299.1,1219.6 L3300.8,1216.0 L3302.5,1212.3 L3304.2,1208.7 L3305.9,1205.0 L3307.6,1201.4 L3309.2,1197.7 L3310.9,1194.0 L3312.5,1190.3 L3314.1,1186.6 L3315.8,1182.9 L3317.4,1179.3 L3319.0,1175.6 L3320.6,1171.9 L3322.2,1168.2 L3323.8,1164.5 L3325.5,1160.8 L3327.1,1157.1 L3328.7,1153.4 L3330.2,1149.7 L3331.8,1146.0 L3333.4,1142.3 L3335.0,1138.6 L3336.5,1134.9 L3338.0,1131.2 L3339.6,1127.4 L3341.0,1123.7 L3342.5,1120.0 L3344.0,1116.2 L3345.5,1112.5 L3346.9,1108.7 L3348.3,1105.0 L3349.8,1101.2 L3351.2,1097.4 L3352.6,1093.7 L3354.0,1089.9 L3355.4,1086.1 L3356.8,1082.4 L3358.2,1078.6 L3359.6,1074.8 L3361.0,1071.1 L3362.4,1067.3 L3363.7,1063.5 L3365.1,1059.7 L3366.5,1055.9 L3367.9,1052.2 L3369.3,1048.4 L3370.7,1044.6 L3372.1,1040.8 L3373.5,1037.1 L3374.9,1033.3 L3376.3,1029.5 L3377.7,1025.7 L3379.1,1022.0 L3380.5,1018.2 L3381.9,1014.4 L3383.3,1010.6 L3384.7,1006.8 L3386.1,1003.1 L3387.5,999.3 L3388.9,995.5 L3390.3,991.7 L3391.7,987.9 L3393.1,984.2 L3394.5,980.4 L3395.9,976.6 L3397.3,972.8 L3398.7,969.0 L3400.1,965.3 L3401.5,961.5 L3402.8,957.7 L3404.2,953.9 L3405.6,950.1 L3407.0,946.4 L3408.4,942.6 L3409.8,938.8 L3411.2,935.0 L3412.6,931.2 L3414.0,927.4 L3415.4,923.7 L3416.8,919.9 L3418.2,916.1 L3419.6,912.3 L3421.0,908.5 L3422.3,904.7 L3423.7,900.9 L3425.1,897.2 L3426.5,893.4 L3427.9,889.6 L3429.3,885.8 L3430.6,882.0 L3432.0,878.2 L3433.4,874.4 L3434.7,870.7 L3436.1,866.9 L3437.5,863.1 L3438.9,859.3 L3440.3,855.5 L3441.7,851.7 L3443.1,848.0 L3444.5,844.2 L3445.9,840.4 L3447.4,836.7 L3448.8,833.0 L3450.3,829.2 L3451.8,825.5 L3453.4,821.8 L3454.9,818.1 L3456.5,814.4 L3458.1,810.7 L3459.8,807.1 L3461.5,803.4 L3463.2,799.8 L3464.9,796.2 L3466.7,792.6 L3468.6,789.0 L3470.4,785.4 L3472.4,781.9 L3474.3,778.4 L3476.4,774.9 L3478.4,771.4 L3480.6,768.0 L3482.8,748.2 L3488.4,725.8 L3494.0,711.8 L3499.6,695.1 L3505.1,678.3 L3513.5,672.7 L3516.3,661.6 L3520.5,636.4 L3523.3,619.7 L3533.1,614.1 L3537.3,597.3 L3541.5,576.4 L3551.2,569.4 L3555.4,547.0 L3561.0,535.9 L3563.8,516.3 L3566.0,498.2" fill="none" stroke="#00A0E9" stroke-width="10" stroke-linejoin="round"/>
</g>
<line x1="1406" y1="1649.4" x2="1506" y2="1649.4" stroke="#3a3a3a" stroke-width="1"/>
<text x="0" y="0" transform="translate(3065.3,955.5) rotate(-81.85) scale(1,1.03)" font-family="&quot;Liberation Sans&quot;, sans-serif" font-weight="bold" font-style="normal" font-size="92.0" fill="#FF0000" text-anchor="start" >NiFeB hydroxide</text>
<text x="0" y="0" transform="translate(3421.8,1284.6) rotate(-70.2) scale(1,1.03)" font-family="&quot;Liberation Sans&quot;, sans-serif" font-weight="bold" font-style="normal" font-size="92.0" fill="#00A0E9" text-anchor="start" >NiFe hydroxide</text>
<text x="0" y="0" transform="translate(2014.3,297.0) scale(1,1.055)" font-family="&quot;Liberation Sans&quot;, sans-serif" font-weight="bold" font-style="normal" font-size="99.0" fill="#009A44" text-anchor="start" >Ni</text>
<text x="0" y="0" transform="translate(2112.4,262.9) scale(1,1.045)" font-family="&quot;Liberation Sans&quot;, sans-serif" font-weight="bold" font-style="normal" font-size="58.0" fill="#009A44" text-anchor="start" >2+</text>
<text x="0" y="0" transform="translate(2177.0,297.0) scale(1,1.040)" font-family="&quot;Liberation Sans&quot;, sans-serif" font-weight="bold" font-style="normal" font-size="99.0" fill="#009A44" text-anchor="start" >(OH)</text>
<text x="0" y="0" transform="translate(2392.0,331.0) scale(1,1.045)" font-family="&quot;Liberation Sans&quot;, sans-serif" font-weight="bold" font-style="normal" font-size="58.0" fill="#009A44" text-anchor="start" >2</text>
<text x="0" y="0" transform="translate(1498.5,595.9) scale(1,1.075)" font-family="&quot;Liberation Sans&quot;, sans-serif" font-weight="bold" font-style="normal" font-size="82.0" fill="#141414" text-anchor="start" >Low </text>
<text x="0" y="0" transform="translate(1689.5,595.9) scale(1,1.075)" font-family="&quot;Liberation Sans&quot;, sans-serif" font-weight="bold" font-style="italic" font-size="82.0" fill="#141414" text-anchor="start" >E</text>
<text x="0" y="0" transform="translate(2551.5,596.7) scale(1,1.080)" font-family="&quot;Liberation Sans&quot;, sans-serif" font-weight="bold" font-style="normal" font-size="82.0" fill="#141414" text-anchor="start" >High </text>
<text x="0" y="0" transform="translate(2760.5,596.7) scale(1,1.080)" font-family="&quot;Liberation Sans&quot;, sans-serif" font-weight="bold" font-style="italic" font-size="82.0" fill="#141414" text-anchor="start" >E</text>
<ellipse cx="1831.4" cy="567.6" rx="54.3" ry="56.2" fill="#0B9DE3"/>
<text x="0" y="0" transform="translate(1831.4,596.0) scale(1,1.040)" font-family="&quot;Liberation Sans&quot;, sans-serif" font-weight="bold" font-style="normal" font-size="77.0" fill="#fff" text-anchor="middle" >Ni</text>
<ellipse cx="1940.2" cy="567.6" rx="54.3" ry="56.2" fill="#009A44"/>
<text x="0" y="0" transform="translate(1945.2,596.0) scale(1,1.040)" font-family="&quot;Liberation Sans&quot;, sans-serif" font-weight="bold" font-style="normal" font-size="77.0" fill="#fff" text-anchor="middle" >Fe</text>
<ellipse cx="2049.0" cy="567.6" rx="54.3" ry="56.2" fill="#E60012"/>
<text x="0" y="0" transform="translate(2049.0,596.0) scale(1,1.040)" font-family="&quot;Liberation Sans&quot;, sans-serif" font-weight="bold" font-style="normal" font-size="77.0" fill="#fff" text-anchor="middle" >B</text>
<ellipse cx="2340.7" cy="567.6" rx="54.3" ry="56.2" fill="#0B9DE3"/>
<text x="0" y="0" transform="translate(2340.7,596.0) scale(1,1.040)" font-family="&quot;Liberation Sans&quot;, sans-serif" font-weight="bold" font-style="normal" font-size="77.0" fill="#fff" text-anchor="middle" >Ni</text>
<ellipse cx="2449.5" cy="567.6" rx="54.3" ry="56.2" fill="#009A44"/>
<text x="0" y="0" transform="translate(2454.5,596.0) scale(1,1.040)" font-family="&quot;Liberation Sans&quot;, sans-serif" font-weight="bold" font-style="normal" font-size="77.0" fill="#fff" text-anchor="middle" >Fe</text>
<defs><clipPath id="cla"><rect x="2000" y="348.4" width="200" height="600"/></clipPath></defs>
<path d="M2079.5,338 L2083.7,348.4 C2087.9,359.1 2101.7,391.4 2109.0,412.9 C2116.3,434.4 2123.3,452.8 2127.5,477.3 C2131.7,501.9 2133.6,537.2 2134.4,560.2 C2135.2,583.2 2134.0,594.0 2132.1,615.5 C2130.2,637.0 2126.8,666.1 2122.9,689.1 C2119.1,712.1 2114.0,734.4 2109.0,753.6 C2104.0,772.8 2095.7,795.8 2093.0,804.2" fill="none" stroke="#0A80F5" stroke-width="12" clip-path="url(#cla)"/>
<path d="M2302.4,350.7 C2297.8,360.3 2282.5,387.2 2274.8,408.3 C2267.1,429.4 2260.4,452.0 2256.4,477.3 C2252.4,502.6 2251.3,534.9 2250.9,560.2 C2250.5,585.5 2251.7,606.3 2254.1,629.3 C2256.5,652.3 2261.0,676.8 2265.6,698.3 C2270.2,719.8 2276.3,740.6 2281.7,758.2 C2287.1,775.9 2295.1,796.5 2297.8,804.2" fill="none" stroke="#0A80F5" stroke-width="12"/>
<path d="M2066,796 L2103.5,811.5 L2059,867.5 Z" fill="#0A80F5" stroke="#0A80F5" stroke-width="5" stroke-linejoin="round"/>
<path d="M2285,815 L2320,800 L2327,872 Z" fill="#0A80F5" stroke="#0A80F5" stroke-width="5" stroke-linejoin="round"/>
<text x="0" y="0" transform="translate(1979.0,990.1) scale(1,1.060)" font-family="&quot;Liberation Sans&quot;, sans-serif" font-weight="bold" font-style="normal" font-size="96.8" fill="#FF0000" text-anchor="start" >Ni</text>
<text x="0" y="0" transform="translate(2077.8,956.6) scale(1,1.030)" font-family="&quot;Liberation Sans&quot;, sans-serif" font-weight="bold" font-style="normal" font-size="57.5" fill="#FF0000" text-anchor="start" >3+δ</text>
<text x="0" y="0" transform="translate(2178.5,990.1) scale(1,1.050)" font-family="&quot;Liberation Sans&quot;, sans-serif" font-weight="bold" font-style="normal" font-size="98.0" fill="#FF0000" text-anchor="start" >OOH</text>
<text x="0" y="0" transform="translate(2422.6,980.4) scale(1,1.000)" font-family="&quot;Liberation Serif&quot;, serif" font-weight="bold" font-style="normal" font-size="100.0" fill="#FF0000" text-anchor="start" >(</text>
<text x="0" y="0" transform="translate(2456.9,980.4) scale(1,1.000)" font-family="&quot;Liberation Serif&quot;, serif" font-weight="bold" font-style="italic" font-size="100.0" fill="#FF0000" text-anchor="start" >active</text>
<text x="0" y="0" transform="translate(2690.5,980.4) scale(1,1.000)" font-family="&quot;Liberation Serif&quot;, serif" font-weight="bold" font-style="normal" font-size="100.0" fill="#FF0000" text-anchor="start" >)</text></svg></body></html>
